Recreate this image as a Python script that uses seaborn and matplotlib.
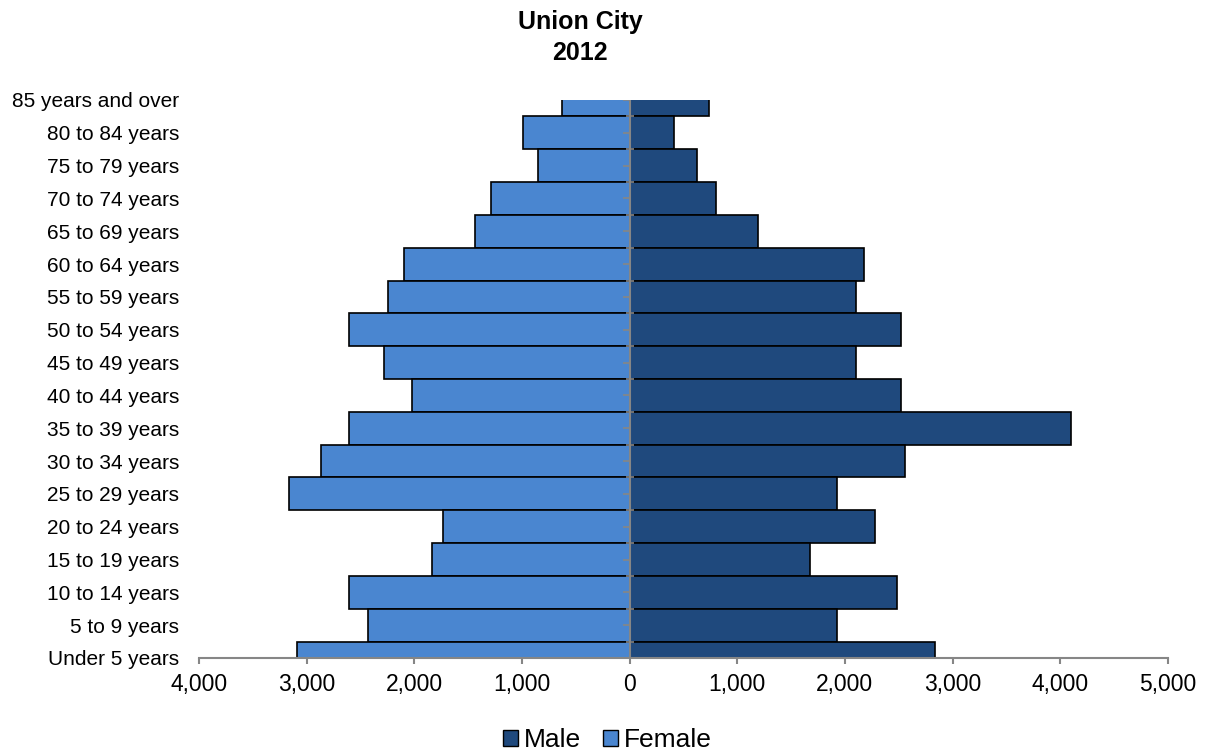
import matplotlib

matplotlib.use("Agg")
import matplotlib.pyplot as plt
import numpy as np
import pandas as pd
import seaborn as sns
from matplotlib.patches import Patch
from matplotlib.ticker import FuncFormatter

# age groups, youngest first
age_groups = [
    "Under 5 years", "5 to 9 years", "10 to 14 years", "15 to 19 years",
    "20 to 24 years", "25 to 29 years", "30 to 34 years", "35 to 39 years",
    "40 to 44 years", "45 to 49 years", "50 to 54 years", "55 to 59 years",
    "60 to 64 years", "65 to 69 years", "70 to 74 years", "75 to 79 years",
    "80 to 84 years", "85 years and over",
]
male = [2838, 1928, 2485, 1680, 2275, 1928, 2556, 4100, 2525, 2101,
        2525, 2101, 2173, 1188, 804, 628, 414, 736]
female = [3090, 2428, 2611, 1840, 1732, 3164, 2871, 2611, 2022, 2280,
          2611, 2242, 2100, 1435, 1286, 847, 992, 624]

x_ticks = [-4000, -3000, -2000, -1000, 0, 1000, 2000, 3000, 4000, 5000]

MALE_COLOR = "#1F497D"
FEMALE_COLOR = "#4A86D0"
AXIS_GRAY = "#868686"


def main():
    sns.set_theme(style="white")
    plt.rcParams["font.family"] = ["Liberation Sans", "DejaVu Sans"]
    plt.rcParams["text.color"] = "black"

    df = pd.DataFrame({
        "Age": age_groups * 2,
        "Sex": ["Male"] * len(age_groups) + ["Female"] * len(age_groups),
        "Population": male + [-v for v in female],
    })
    order = age_groups[::-1]

    fig = plt.figure(figsize=(12.09, 7.53), dpi=100)
    ax = fig.add_axes([0.1646, 0.1262, 0.8014, 0.741])

    sns.barplot(
        data=df, x="Population", y="Age", hue="Sex", order=order,
        hue_order=["Male", "Female"], dodge=False, orient="h",
        palette={"Male": MALE_COLOR, "Female": FEMALE_COLOR}, saturation=1,
        width=1.0, edgecolor="black", linewidth=1.2, legend=False, ax=ax,
    )

    # Excel-style: first and last bars are cut in half by the plot area
    ax.set_xlim(-4000, 5000)
    ax.set_ylim(len(order) - 1, 0)
    ax.set_xticks(x_ticks)
    ax.xaxis.set_major_formatter(FuncFormatter(lambda v, _: f"{abs(int(v)):,}"))
    ax.set_xlabel("")
    ax.set_ylabel("")

    # category axis drawn at zero
    ax.axvline(0, color=AXIS_GRAY, lw=1.5, zorder=5)
    pos = np.arange(len(order))
    ax.scatter(np.zeros(len(pos)), pos, marker=0, s=25, color=AXIS_GRAY,
               linewidths=1.2, zorder=6)
    ax.scatter(np.zeros(len(pos) + 1), np.arange(len(pos) + 1) - 0.5, marker="_",
               s=40, color=AXIS_GRAY, linewidths=1.2, zorder=6)

    for side in ["top", "right", "left"]:
        ax.spines[side].set_visible(False)
    ax.spines["bottom"].set_color(AXIS_GRAY)
    ax.spines["bottom"].set_linewidth(1.5)
    ax.tick_params(axis="x", bottom=True, length=4.5, width=1.5, color=AXIS_GRAY,
                   labelsize=16.5, pad=6, labelcolor="black")
    ax.tick_params(axis="y", left=False, length=0, labelsize=15, pad=14.4,
                   labelcolor="black")

    fig.text(0.48, 1 - 29 / 753, "Union City", ha="center", va="baseline",
             fontsize=18, fontweight="bold", color="black")
    fig.text(0.48, 1 - 60 / 753, "2012", ha="center", va="baseline",
             fontsize=18, fontweight="bold", color="black")

    handles = [Patch(facecolor=MALE_COLOR, edgecolor="black", label="Male"),
               Patch(facecolor=FEMALE_COLOR, edgecolor="black", label="Female")]
    fig.legend(handles=handles, loc="center", bbox_to_anchor=(0.5025, 1 - 740 / 753),
               ncol=2, frameon=False, fontsize=19, handlelength=0.57,
               handleheight=0.57, handletextpad=0.23, columnspacing=0.83,
               borderpad=0, labelcolor="black")

    fig.savefig("out.png", dpi=100)
    plt.close(fig)


if __name__ == "__main__":
    main()
